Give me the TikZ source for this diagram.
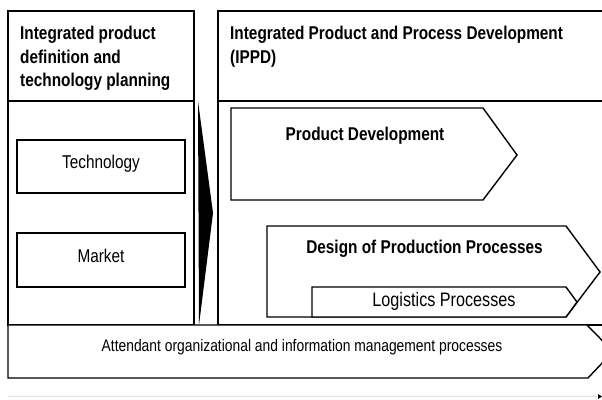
\documentclass[tikz,border=0pt]{standalone}
\usepackage{fontspec}
\setmainfont[FakeStretch=0.83]{Liberation Sans}
\begin{document}
\begin{tikzpicture}[x=1bp,y=-1bp,
  outline/.style={draw=black, line width=1.4bp, fill=white},
  boldtxt/.style={inner sep=0pt, font=\fontsize{18.5bp}{22bp}\selectfont\bfseries},
  regtxt/.style={inner sep=0pt, font=\fontsize{18.5bp}{22bp}\selectfont}]
\useasboundingbox (0,0) rectangle (602,399);
\clip (0,0) rectangle (602,399);
% left column
\path[outline] (8,11) rectangle (194,101);
\path[outline] (8,101) rectangle (194,325);
% right column
\path[outline] (218,11) rectangle (620,101);
\path[outline] (218,101) rectangle (620,325);
% wedge
\fill[black] (198,101) -- (213,213) -- (199,325) -- cycle;
% header texts
\node[boldtxt, anchor=base west] (lh1) at (20,39) {Integrated product};
\node[boldtxt, anchor=base west] (lh2) at (20,63) {definition and};
\node[boldtxt, anchor=base west] (lh3) at (20,86) {technology planning};
\node[boldtxt, anchor=base west] (rh1) at (230,39) {Integrated Product and Process Development};
\node[boldtxt, anchor=base west] (rh2) at (230,63) {(IPPD)};
% left boxes
\path[outline] (17,140) rectangle (185,193);
\node[regtxt, anchor=base] (tech) at (101,168) {Technology};
\path[outline] (17,233) rectangle (185,287);
\node[regtxt, anchor=base] (market) at (101,262) {Market};
% product development
\path[outline] (231,108) -- (483,108) -- (517,155) -- (483,200) -- (231,200) -- cycle;
\node[boldtxt, anchor=base] (pd) at (365,140) {Product Development};
% design of production processes
\path[outline] (267,226) -- (566,226) -- (600,272) -- (566,317) -- (267,317) -- cycle;
\node[boldtxt, anchor=base] (dpp) at (424.5,253) {Design of Production Processes};
% logistics
\path[outline] (312,287) -- (566,287) -- (577,302) -- (566,317) -- (312,317) -- cycle;
\node[regtxt, anchor=base, font=\fontsize{19.5bp}{22bp}\selectfont] (log) at (444,306) {Logistics Processes};
% attendant
\path[outline] (8,325) -- (587,325) -- (613,351.5) -- (588,378) -- (8,378) -- cycle;
\node[regtxt, anchor=base, font=\fontsize{16.7bp}{20bp}\selectfont] (att) at (302,351) {Attendant organizational and information management processes};
% faint bottom line
\draw[black!10, line width=1bp] (8,396) -- (597,396);
\fill[black] (598,394) -- (602,396.5) -- (598,399) -- cycle;
\end{tikzpicture}
\end{document}
